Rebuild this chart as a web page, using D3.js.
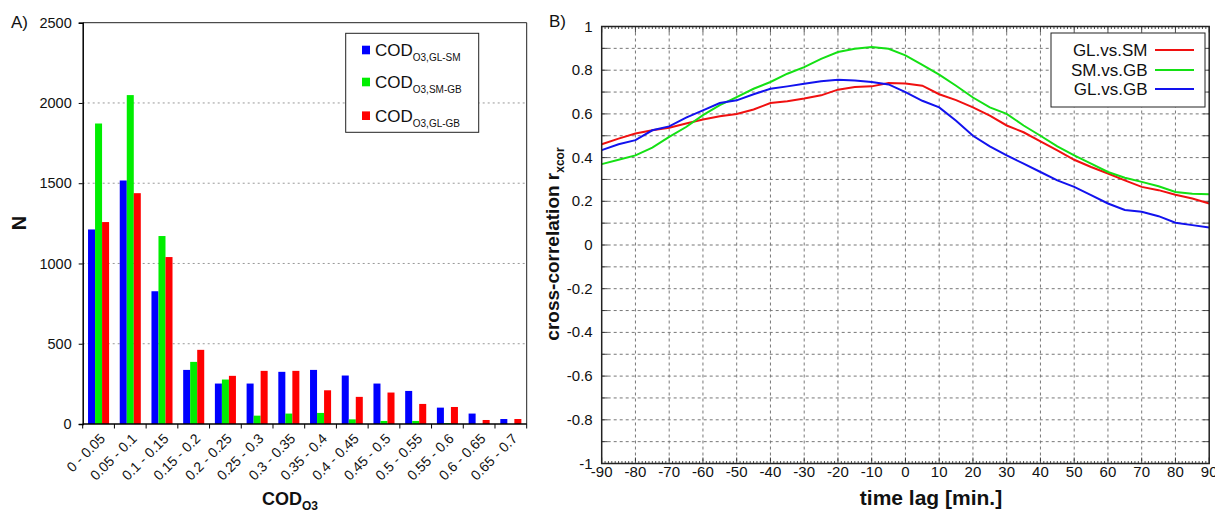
<!DOCTYPE html>
<html>
<head>
<meta charset="utf-8">
<script src="https://cdn.jsdelivr.net/npm/d3@7"></script>
<style>
body { margin: 0; background: #fff; }
text { font-family: "Liberation Sans", Arial, sans-serif; fill: #111; }
</style>
</head>
<body>
<script>
// ---- panel A data: histogram of COD_O3 ----
var bins = ["0 - 0.05", "0.05 - 0.1", "0.1 - 0.15", "0.15 - 0.2", "0.2 - 0.25", "0.25 - 0.3",
    "0.3 - 0.35", "0.35 - 0.4", "0.4 - 0.45", "0.45 - 0.5", "0.5 - 0.55", "0.55 - 0.6",
    "0.6 - 0.65", "0.65 - 0.7"];
var codGLSM = [1212, 1517, 827, 337, 252, 252, 325, 337, 302, 252, 206, 102, 65, 31];
var codSMGB = [1872, 2049, 1171, 387, 277, 52, 65, 69, 29, 19, 19, 6, 0, 0];
var codGLGB = [1258, 1438, 1040, 462, 300, 331, 331, 210, 169, 196, 125, 106, 25, 31];
var nTicks = [0, 500, 1000, 1500, 2000, 2500];

// ---- panel B data: cross-correlation vs time lag ----
var lags = [-90, -85, -80, -75, -70, -65, -60, -55, -50, -45, -40, -35, -30, -25, -20, -15, -10, -5,
    0, 5, 10, 15, 20, 25, 30, 35, 40, 45, 50, 55, 60, 65, 70, 75, 80, 85, 90];
var glsm = [.461, .487, .51, .525, .537, .556, .574, .589, .60, .62, .65, .658, .67, .685, .711, .723, .726, .741,
    .739, .729, .69, .663, .63, .592, .547, .516, .474, .433, .39, .357, .327, .296, .266, .251, .23, .213, .19];
var smgb = [.37, .39, .41, .446, .495, .54, .594, .64, .677, .715, .746, .784, .814, .852, .883, .898, .906, .898,
    .868, .824, .78, .729, .675, .63, .6, .547, .50, .451, .41, .372, .334, .308, .289, .269, .243, .235, .232];
var glgb = [.434, .461, .48, .525, .543, .583, .616, .65, .662, .69, .715, .726, .738, .749, .756, .753, .746, .735,
    .70, .66, .63, .569, .50, .451, .41, .372, .334, .296, .266, .228, .19, .16, .152, .132, .102, .091, .08];
var lagTicks = d3.range(-90, 91, 10);
var rTicks = [-1, -0.8, -0.6, -0.4, -0.2, 0, 0.2, 0.4, 0.6, 0.8, 1];

var svg = d3.select('body')
    .append("svg")
    .attr('width', 1215)
    .attr('height', 514);

// ================= panel A =================
var ax0 = 82.7, ax1 = 526.7, ay0 = 22.7, ay1 = 424;
var seriesA = [
    { name: "GL-SM", vals: codGLSM, color: "#0000ff" },
    { name: "SM-GB", vals: codSMGB, color: "#00ee00" },
    { name: "GL-GB", vals: codGLGB, color: "#ff0000" }
];

var xA = d3.scaleBand().domain(bins).range([ax0, ax1]);
var xSub = d3.scaleBand().domain(seriesA.map(function(s) { return s.name; }))
    .range([0, xA.bandwidth()]).paddingOuter(0.76);
var yA = d3.scaleLinear().domain([0, 2500]).range([ay1, ay0]);

var gA = svg.append('g');

// grid
gA.selectAll('.gridA').data(nTicks.slice(1, 5)).enter()
    .append('line')
    .attr('x1', ax0).attr('x2', ax1)
    .attr('y1', function(d) { return yA(d); })
    .attr('y2', function(d) { return yA(d); })
    .style('stroke', '#999')
    .style('stroke-dasharray', '2,3');

// bars
seriesA.forEach(function(s) {
    gA.selectAll('.bar-' + s.name).data(s.vals).enter()
        .append('rect')
        .attr('x', function(d, i) { return xA(bins[i]) + xSub(s.name); })
        .attr('width', xSub.bandwidth())
        .attr('y', function(d) { return yA(d); })
        .attr('height', function(d) { return ay1 - yA(d); })
        .style('fill', s.color);
});

// frame
gA.append('path')
    .attr('d', "M" + ax0 + "," + ay0 + "H" + ax1 + "V" + ay1)
    .style('fill', 'none').style('stroke', '#222').style('stroke-width', 1);

// y axis
var yAxisA = gA.append('g')
    .attr('transform', 'translate(' + ax0 + ',0)')
    .call(d3.axisLeft(yA).tickValues(nTicks).tickFormat(d3.format('d')).tickSize(4).tickPadding(7));
yAxisA.select('.domain').style('stroke', '#000').style('stroke-width', 1.5);
yAxisA.selectAll('text').style('font-size', '14.5px').style('font-family', '"Liberation Sans", Arial, sans-serif');

// x axis baseline + boundary ticks
gA.append('line')
    .attr('x1', ax0).attr('x2', ax1).attr('y1', ay1).attr('y2', ay1)
    .style('stroke', '#000').style('stroke-width', 1.5);
var bounds = bins.map(function(b) { return xA(b); }).concat([ax1]);
gA.selectAll('.btick').data(bounds).enter()
    .append('line')
    .attr('x1', function(d) { return d; }).attr('x2', function(d) { return d; })
    .attr('y1', ay1).attr('y2', ay1 + 4.5)
    .style('stroke', '#000');

gA.selectAll('.xlab').data(bins).enter()
    .append('text')
    .attr('transform', function(d) {
        return 'translate(' + (xA(d) + xA.bandwidth() / 2 + 4) + ',' + (ay1 + 12) + ') rotate(-45)';
    })
    .attr('text-anchor', 'end')
    .attr('dy', '0.35em')
    .style('font-size', '14px')
    .text(function(d) { return d; });

// axis titles
var xt = gA.append('text')
    .attr('x', 290).attr('y', 505)
    .attr('text-anchor', 'middle')
    .style('font-size', '18px').style('font-weight', 'bold');
xt.append('tspan').text('COD');
xt.append('tspan').attr('dy', 5).style('font-size', '12px').text('O3');

gA.append('text')
    .attr('transform', 'translate(26,223) rotate(-90)')
    .attr('text-anchor', 'middle')
    .style('font-size', '20px').style('font-weight', 'bold')
    .text('N');

gA.append('text').attr('x', 11).attr('y', 28)
    .style('font-size', '17px').text('A)');

// legend A
gA.append('rect')
    .attr('x', 345.7).attr('y', 33.3).attr('width', 133).attr('height', 99)
    .style('fill', '#fff').style('stroke', '#222').style('stroke-width', 1);
var legA = [50, 82, 115.7];
seriesA.forEach(function(s, i) {
    gA.append('rect')
        .attr('x', 362).attr('y', legA[i] - 4.3).attr('width', 8).attr('height', 8.6)
        .style('fill', s.color);
    var t = gA.append('text').attr('x', 375).attr('y', legA[i] + 6)
        .style('font-size', '17px');
    t.append('tspan').text('COD');
    t.append('tspan').attr('dy', 5).style('font-size', '10px').text('O3,' + s.name);
});

// ================= panel B =================
var bx0 = 601.7, bx1 = 1209.2, by0 = 26.5, by1 = 463.5;
var xB = d3.scaleLinear().domain([-90, 90]).range([bx0, bx1]);
var yB = d3.scaleLinear().domain([-1, 1]).range([by1, by0]);
var gB = svg.append('g');

// grid
gB.selectAll('.vgrid').data(lagTicks.slice(1, -1)).enter()
    .append('line')
    .attr('x1', function(d) { return xB(d); }).attr('x2', function(d) { return xB(d); })
    .attr('y1', by0).attr('y2', by1)
    .style('stroke', '#777').style('stroke-dasharray', '3,3');
var rGrid = d3.range(-9, 10).map(function(k) { return k / 10; });
gB.selectAll('.hgrid').data(rGrid).enter()
    .append('line')
    .attr('x1', bx0).attr('x2', bx1)
    .attr('y1', function(d) { return yB(d); }).attr('y2', function(d) { return yB(d); })
    .style('stroke', '#777').style('stroke-dasharray', '3,3');

// inward ticks
var minor = d3.range(-90, 91, 1);
[by0, by1].forEach(function(yy, k) {
    var dir = k === 0 ? 1 : -1;
    gB.selectAll('.mt' + k).data(minor).enter()
        .append('line')
        .attr('x1', function(d) { return xB(d); }).attr('x2', function(d) { return xB(d); })
        .attr('y1', yy)
        .attr('y2', function(d) { return yy + dir * (d % 10 === 0 ? 6 : 2.5); })
        .style('stroke', '#222').style('stroke-width', 0.8);
});
[bx0, bx1].forEach(function(xx, k) {
    var dir = k === 0 ? 1 : -1;
    gB.selectAll('.yt' + k).data(rGrid).enter()
        .append('line')
        .attr('y1', function(d) { return yB(d); }).attr('y2', function(d) { return yB(d); })
        .attr('x1', xx).attr('x2', xx + dir * 6)
        .style('stroke', '#222').style('stroke-width', 0.8);
});

// curves
var seriesB = [
    { name: "GL.vs.SM", vals: glsm, color: "#f01010" },
    { name: "SM.vs.GB", vals: smgb, color: "#14e014" },
    { name: "GL.vs.GB", vals: glgb, color: "#1212ee" }
];
var line = d3.line()
    .x(function(d, i) { return xB(lags[i]); })
    .y(function(d) { return yB(d); });
seriesB.forEach(function(s) {
    gB.append('path')
        .attr('d', line(s.vals))
        .style('fill', 'none')
        .style('stroke', s.color)
        .style('stroke-width', 2);
});

// frame
gB.append('rect')
    .attr('x', bx0).attr('y', by0).attr('width', bx1 - bx0).attr('height', by1 - by0)
    .style('fill', 'none').style('stroke', '#222').style('stroke-width', 1.5);

// tick labels
gB.selectAll('.ylabB').data(rTicks).enter()
    .append('text')
    .attr('x', bx0 - 9).attr('y', function(d) { return yB(d) + 5; })
    .attr('text-anchor', 'end')
    .style('font-size', '15px')
    .text(function(d) { return String(d); });
gB.selectAll('.xlabB').data(lagTicks).enter()
    .append('text')
    .attr('x', function(d) { return xB(d); }).attr('y', 477)
    .attr('text-anchor', 'middle')
    .style('font-size', '15px')
    .text(function(d) { return String(d); });

gB.append('text')
    .attr('x', 931).attr('y', 505)
    .attr('text-anchor', 'middle')
    .style('font-size', '21px').style('font-weight', 'bold')
    .text('time lag [min.]');

var yl = gB.append('text')
    .attr('transform', 'translate(559,244) rotate(-90)')
    .attr('text-anchor', 'middle')
    .style('font-size', '19px').style('font-weight', 'bold');
yl.append('tspan').text('cross-correlation r');
yl.append('tspan').attr('dy', 5).style('font-size', '12px').text('xcor');

gB.append('text').attr('x', 549).attr('y', 27)
    .style('font-size', '17px').text('B)');

// legend B
gB.append('rect')
    .attr('x', 1051).attr('y', 33).attr('width', 154).attr('height', 74)
    .style('fill', '#fff').style('stroke', '#222').style('stroke-width', 1);
var legB = [50, 70, 89];
seriesB.forEach(function(s, i) {
    gB.append('text')
        .attr('x', 1147.5).attr('y', legB[i] + 6)
        .attr('text-anchor', 'end')
        .style('font-size', '17px')
        .text(s.name);
    gB.append('line')
        .attr('x1', 1155).attr('x2', 1194)
        .attr('y1', legB[i]).attr('y2', legB[i])
        .style('stroke', s.color).style('stroke-width', 2);
});
</script>
</body>
</html>
